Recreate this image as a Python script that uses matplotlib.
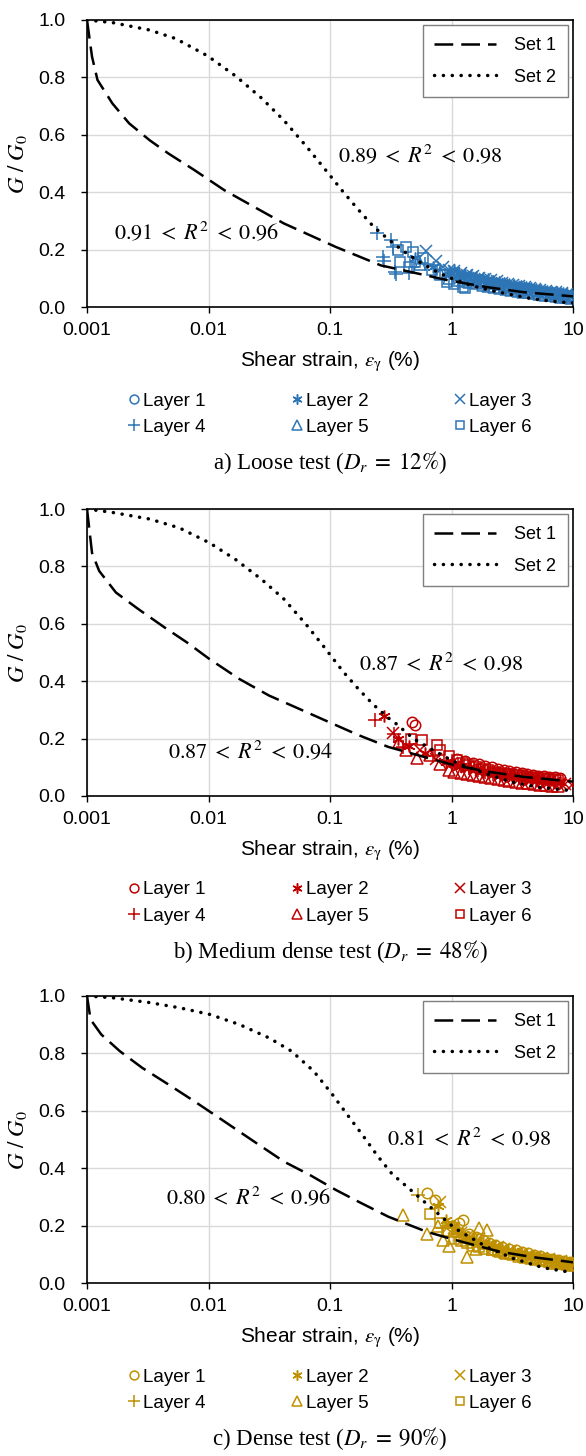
"""
G/G0 vs shear strain for the loose, medium dense and dense tests,
with the two fitted reduction curves (Set 1, Set 2) on each panel.
"""

import matplotlib

matplotlib.use("Agg")
import matplotlib.pyplot as plt
from matplotlib.lines import Line2D

plt.rcParams["font.family"] = ["Liberation Sans", "DejaVu Sans"]
plt.rcParams["mathtext.fontset"] = "stix"

# ---------------------------------------------------------------- data
# a) loose test
a_set1_x = [0.001, 0.0011, 0.00122, 0.00162, 0.00222, 0.00328, 0.00467, 0.00766, 0.0135,
            0.0237, 0.0418, 0.0685, 0.112, 0.262, 0.462, 0.94, 1.9, 3.86, 10]
a_set1_y = [1.0, 0.872, 0.791, 0.709, 0.640, 0.581, 0.535, 0.477, 0.407,
            0.349, 0.291, 0.250, 0.209, 0.145, 0.122, 0.093, 0.070, 0.052, 0.037]
a_set2_x = [0.001, 0.00162, 0.00328, 0.00538, 0.00982, 0.0167, 0.0273, 0.0418, 0.0638, 0.091,
            0.129, 0.172, 0.228, 0.302, 0.401, 0.54, 0.8, 1.0, 1.45, 2.08, 3.2, 4.7, 7.5, 10]
a_set2_y = [1.0, 0.991, 0.965, 0.935, 0.875, 0.805, 0.728, 0.650, 0.560, 0.480,
            0.400, 0.338, 0.280, 0.236, 0.195, 0.158, 0.117, 0.100, 0.075, 0.058, 0.042,
            0.028, 0.018, 0.014]

a_l1_x = [1.0, 1.1, 1.2, 1.3, 1.45, 1.6, 1.75, 1.9, 2.1, 2.3, 2.5, 2.75, 3.0, 3.3, 3.6, 4.0,
          4.4, 4.8, 5.3, 5.8, 6.4, 7.0, 7.7, 8.4, 9.2, 9.9]
a_l1_y = [0.118, 0.112, 0.108, 0.104, 0.100, 0.096, 0.093, 0.090, 0.087, 0.084, 0.080, 0.077,
          0.074, 0.071, 0.068, 0.065, 0.062, 0.059, 0.056, 0.053, 0.050, 0.047, 0.045, 0.042,
          0.039, 0.036]
a_l2_x = [0.5, 0.7, 0.95, 1.05, 1.15, 1.3, 1.45, 1.6, 1.8, 2.0, 2.2, 2.45, 2.7, 3.0, 3.3,
          3.7, 4.1, 4.5, 5.0, 5.5, 6.1, 6.7, 7.4, 8.2, 9.0]
a_l2_y = [0.17, 0.14, 0.125, 0.128, 0.12, 0.115, 0.11, 0.105, 0.1, 0.096, 0.092, 0.088, 0.084,
          0.080, 0.077, 0.073, 0.070, 0.067, 0.063, 0.060, 0.057, 0.054, 0.051, 0.048, 0.045]
a_l3_x = [0.62, 0.75, 0.85, 0.95, 1.05, 1.2, 1.35, 1.5, 1.7, 1.9, 2.1, 2.35, 2.6, 2.9, 3.2,
          3.6, 4.0, 4.4, 4.9, 5.4, 6.0, 6.6, 7.3, 8.1, 9.0, 9.8]
a_l3_y = [0.195, 0.16, 0.14, 0.13, 0.125, 0.12, 0.113, 0.108, 0.102, 0.097, 0.093, 0.089,
          0.085, 0.081, 0.078, 0.074, 0.071, 0.067, 0.064, 0.060, 0.057, 0.054, 0.051, 0.048,
          0.045, 0.043]
a_l4_x = [0.245, 0.275, 0.28, 0.32, 0.33, 0.34, 0.35, 0.45, 0.47, 0.6, 0.8, 1.0, 1.15, 1.35,
          1.6, 1.9, 2.2, 2.6, 3.0, 3.5, 4.0, 4.6, 5.3, 6.1, 7.0, 8.0, 9.0]
a_l4_y = [0.257, 0.175, 0.16, 0.233, 0.21, 0.123, 0.115, 0.118, 0.14, 0.15, 0.13, 0.11, 0.104,
          0.098, 0.091, 0.085, 0.079, 0.074, 0.069, 0.064, 0.060, 0.056, 0.052, 0.048, 0.045,
          0.042, 0.039]
a_l5_x = [0.55, 0.8, 0.95, 1.1, 1.25, 1.4, 1.6, 1.8, 2.0, 2.25, 2.5, 2.8, 3.1, 3.5, 3.9, 4.3,
          4.8, 5.3, 5.9, 6.5, 7.2, 8.0, 8.8, 9.6]
a_l5_y = [0.15, 0.12, 0.1, 0.095, 0.09, 0.086, 0.082, 0.078, 0.074, 0.070, 0.067, 0.063, 0.060,
          0.057, 0.054, 0.051, 0.048, 0.046, 0.043, 0.041, 0.038, 0.036, 0.034, 0.032]
a_l6_x = [0.36, 0.38, 0.42, 0.45, 0.48, 0.5, 0.58, 0.69, 0.8, 0.91, 1.05, 1.25, 1.3, 1.4, 1.6,
          1.8, 2.1, 2.4, 2.7, 3.1, 3.5, 4.0, 4.5, 5.1, 5.8, 6.6, 7.5, 8.5, 9.5]
a_l6_y = [0.2, 0.158, 0.21, 0.14, 0.193, 0.158, 0.17, 0.129, 0.11, 0.088, 0.08, 0.071, 0.066,
          0.094, 0.089, 0.084, 0.079, 0.075, 0.070, 0.066, 0.062, 0.058, 0.055, 0.051, 0.048,
          0.045, 0.042, 0.039, 0.037]

# b) medium dense test
b_set1_x = [0.001, 0.0011, 0.00126, 0.00173, 0.00265, 0.00436, 0.00665, 0.0102, 0.0179,
            0.0315, 0.0555, 0.0975, 0.172, 0.302, 0.658, 1.0, 1.9, 3.86, 10]
b_set1_y = [1.0, 0.847, 0.784, 0.709, 0.651, 0.587, 0.535, 0.477, 0.408,
            0.350, 0.304, 0.258, 0.212, 0.171, 0.131, 0.110, 0.086, 0.067, 0.050]
b_set2_x = [0.001, 0.00162, 0.00328, 0.00577, 0.0102, 0.0167, 0.0273, 0.0418, 0.0638, 0.091,
            0.129, 0.172, 0.228, 0.302, 0.343, 0.485, 0.665, 1.02, 1.72, 3.03, 5.3, 10]
b_set2_y = [1.0, 0.988, 0.965, 0.934, 0.882, 0.824, 0.755, 0.686, 0.597, 0.515,
            0.432, 0.372, 0.318, 0.272, 0.255, 0.200, 0.166, 0.122, 0.085, 0.050, 0.030, 0.018]

b_l1_x = [0.47, 0.5, 1.1, 1.3, 1.5, 1.7, 1.9, 2.15, 2.4, 2.7, 3.0, 3.4, 3.8, 4.2, 4.7, 5.2,
          5.8, 6.4, 7.1, 7.8]
b_l1_y = [0.258, 0.246, 0.13, 0.122, 0.115, 0.11, 0.105, 0.1, 0.095, 0.091, 0.087, 0.083,
          0.08, 0.077, 0.074, 0.071, 0.069, 0.067, 0.065, 0.063]
b_l2_x = [0.28, 0.36, 0.45, 0.6, 0.9, 1.05, 1.2, 1.4, 1.6, 1.8, 2.05, 2.3, 2.6, 2.95, 3.3,
          3.7, 4.1, 4.6, 5.1, 5.7, 6.3, 7.0, 7.8]
b_l2_y = [0.28, 0.2, 0.175, 0.15, 0.12, 0.11, 0.104, 0.098, 0.093, 0.088, 0.084, 0.080, 0.076,
          0.072, 0.069, 0.066, 0.063, 0.060, 0.058, 0.055, 0.053, 0.051, 0.049]
b_l3_x = [0.33, 0.55, 0.75, 1.0, 1.15, 1.35, 1.55, 1.75, 2.0, 2.25, 2.55, 2.9, 3.25, 3.65,
          4.1, 4.6, 5.1, 5.7, 6.3, 7.0, 7.8, 8.6, 9.8]
b_l3_y = [0.22, 0.16, 0.13, 0.115, 0.108, 0.101, 0.095, 0.09, 0.085, 0.08, 0.076, 0.072,
          0.068, 0.064, 0.061, 0.058, 0.055, 0.052, 0.05, 0.047, 0.045, 0.042, 0.04]
b_l4_x = [0.233, 0.335, 0.4, 0.7, 1.0, 1.2, 1.4, 1.65, 1.9, 2.2, 2.5, 2.85, 3.2, 3.6, 4.05,
          4.5, 5.0, 5.6, 6.2, 7.0]
b_l4_y = [0.266, 0.217, 0.17, 0.14, 0.11, 0.103, 0.096, 0.089, 0.083, 0.078, 0.074, 0.07,
          0.066, 0.063, 0.06, 0.057, 0.055, 0.052, 0.05, 0.048]
b_l5_x = [0.37, 0.42, 0.52, 0.66, 0.8, 0.95, 1.05, 1.2, 1.35, 1.5, 1.7, 1.9, 2.1, 2.4, 2.7,
          3.0, 3.4, 3.8, 4.3, 4.8, 5.4, 6.0, 6.7, 7.5]
b_l5_y = [0.188, 0.16, 0.131, 0.142, 0.11, 0.09, 0.085, 0.08, 0.076, 0.072, 0.068, 0.065,
          0.062, 0.058, 0.055, 0.052, 0.049, 0.047, 0.044, 0.042, 0.04, 0.038, 0.036, 0.034]
b_l6_x = [0.46, 0.57, 0.76, 0.81, 0.95, 1.1, 1.25, 1.4, 1.6, 1.8, 2.0, 2.25, 2.5, 2.8, 3.1,
          3.5, 3.9, 4.4, 4.9, 5.5, 6.1, 6.8, 7.5]
b_l6_y = [0.2, 0.194, 0.177, 0.16, 0.14, 0.125, 0.115, 0.108, 0.1, 0.094, 0.089, 0.085,
          0.081, 0.078, 0.075, 0.072, 0.069, 0.066, 0.064, 0.062, 0.06, 0.058, 0.056]

# c) dense test
c_set1_x = [0.001, 0.00107, 0.00131, 0.00186, 0.00284, 0.00467, 0.00766, 0.0135, 0.0237,
            0.0418, 0.0685, 0.112, 0.172, 0.302, 0.62, 1.07, 2.5, 4.7, 10]
c_set1_y = [1.0, 0.918, 0.866, 0.808, 0.750, 0.692, 0.633, 0.563, 0.493,
            0.423, 0.376, 0.324, 0.283, 0.231, 0.179, 0.150, 0.109, 0.090, 0.072]
c_set2_x = [0.001, 0.00162, 0.00328, 0.00577, 0.0102, 0.0179, 0.0315, 0.0481, 0.0735, 0.105,
            0.139, 0.185, 0.244, 0.324, 0.48, 0.69, 1.07, 1.94, 3.2, 5.7, 10]
c_set2_y = [1.0, 0.994, 0.977, 0.959, 0.936, 0.901, 0.854, 0.808, 0.738, 0.656,
            0.586, 0.516, 0.445, 0.380, 0.318, 0.260, 0.190, 0.126, 0.086, 0.053, 0.036]

c_l1_x = [0.63, 0.73, 1.0, 1.15, 1.24, 1.4, 1.6, 1.8, 2.05, 2.3, 2.6, 3.0, 3.4, 3.8, 4.3,
          4.8, 5.4, 6.0, 6.7, 7.5, 8.5, 9.5]
c_l1_y = [0.312, 0.289, 0.2, 0.21, 0.219, 0.17, 0.16, 0.15, 0.14, 0.132, 0.126, 0.12, 0.114,
          0.108, 0.103, 0.098, 0.093, 0.088, 0.084, 0.08, 0.076, 0.072]
c_l2_x = [0.78, 0.9, 1.0, 1.1, 1.25, 1.4, 1.6, 1.8, 2.05, 2.3, 2.6, 2.9, 3.3, 3.7, 4.1, 4.6,
          5.2, 5.8, 6.5, 7.2, 8.1, 9.0]
c_l2_y = [0.27, 0.22, 0.2, 0.18, 0.17, 0.16, 0.15, 0.14, 0.135, 0.13, 0.122, 0.115, 0.11,
          0.105, 0.1, 0.095, 0.09, 0.085, 0.081, 0.078, 0.074, 0.07]
c_l3_x = [0.81, 0.95, 1.05, 1.2, 1.35, 1.5, 1.7, 1.9, 2.15, 2.4, 2.7, 3.1, 3.5, 3.9, 4.4,
          5.0, 5.6, 6.3, 7.1, 8.0, 8.9, 9.8]
c_l3_y = [0.283, 0.2, 0.19, 0.175, 0.16, 0.15, 0.142, 0.135, 0.13, 0.125, 0.118, 0.11, 0.105,
          0.1, 0.095, 0.09, 0.086, 0.082, 0.078, 0.075, 0.071, 0.068]
c_l4_x = [0.53, 0.85, 1.05, 1.2, 1.35, 1.5, 1.7, 1.95, 2.2, 2.5, 2.8, 3.2, 3.6, 4.1, 4.6,
          5.2, 5.9, 6.7, 7.5, 8.5, 9.5]
c_l4_y = [0.306, 0.19, 0.16, 0.15, 0.14, 0.132, 0.125, 0.12, 0.115, 0.11, 0.105, 0.1, 0.095,
          0.09, 0.085, 0.081, 0.078, 0.074, 0.07, 0.067, 0.064]
c_l5_x = [0.4, 0.63, 0.78, 0.85, 0.95, 1.1, 1.33, 1.6, 1.7, 1.95, 2.2, 2.5, 2.8, 3.2, 3.6,
          4.0, 4.5, 5.0, 5.6, 6.3, 7.1, 8.0, 8.9, 9.8]
c_l5_y = [0.237, 0.169, 0.2, 0.15, 0.13, 0.19, 0.091, 0.12, 0.19, 0.185, 0.12, 0.112, 0.105,
          0.1, 0.095, 0.09, 0.086, 0.083, 0.079, 0.075, 0.071, 0.068, 0.065, 0.062]
c_l6_x = [0.66, 0.8, 0.92, 1.05, 1.2, 1.35, 1.5, 1.7, 1.9, 2.15, 2.4, 2.7, 3.05, 3.45, 3.9,
          4.4, 5.0, 5.7, 6.5, 7.4, 8.4, 9.5]
c_l6_y = [0.242, 0.21, 0.18, 0.155, 0.145, 0.138, 0.13, 0.125, 0.12, 0.115, 0.11, 0.105, 0.1,
          0.096, 0.092, 0.088, 0.083, 0.079, 0.075, 0.071, 0.067, 0.064]

layer_names = ["Layer 1", "Layer 2", "Layer 3", "Layer 4", "Layer 5", "Layer 6"]
r2_labels = [
    (r"$0.89\;<\;R^2\;<\;0.98$", r"$0.91\;<\;R^2\;<\;0.96$"),
    (r"$0.87\;<\;R^2\;<\;0.98$", r"$0.87\;<\;R^2\;<\;0.94$"),
    (r"$0.81\;<\;R^2\;<\;0.98$", r"$0.80\;<\;R^2\;<\;0.96$"),
]
captions = [
    ("a) Loose test (", r"$D_r\;=\;12\%$"),
    ("b) Medium dense test (", r"$D_r\;=\;48\%$"),
    ("c) Dense test (", r"$D_r\;=\;90\%$"),
]

# ---------------------------------------------------------------- style
COLORS = ["#2E75B6", "#C00000", "#BF9000"]
MARKERS = ["o", (6, 2, 0), "x", "+", "^", "s"]
MSIZE = [7.5, 8.5, 8.5, 10, 8.5, 7.5]
FS_TICK = 14
FS_LEG = 13.5

W, H = 586.0, 1456.0
AX_LEFT, AX_RIGHT = 87, 573
AX_TOPS = [20, 509, 996]
AX_H = 287

# where to put the two R^2 texts: (x, y) of the left edge
r2_pos = [
    ((0.116, 0.529), (0.00168, 0.259)),
    ((0.172, 0.460), (0.0046, 0.156)),
    ((0.292, 0.502), (0.00445, 0.297)),
]

panels = [
    (a_set1_x, a_set1_y, a_set2_x, a_set2_y,
     [(a_l1_x, a_l1_y), (a_l2_x, a_l2_y), (a_l3_x, a_l3_y),
      (a_l4_x, a_l4_y), (a_l5_x, a_l5_y), (a_l6_x, a_l6_y)]),
    (b_set1_x, b_set1_y, b_set2_x, b_set2_y,
     [(b_l1_x, b_l1_y), (b_l2_x, b_l2_y), (b_l3_x, b_l3_y),
      (b_l4_x, b_l4_y), (b_l5_x, b_l5_y), (b_l6_x, b_l6_y)]),
    (c_set1_x, c_set1_y, c_set2_x, c_set2_y,
     [(c_l1_x, c_l1_y), (c_l2_x, c_l2_y), (c_l3_x, c_l3_y),
      (c_l4_x, c_l4_y), (c_l5_x, c_l5_y), (c_l6_x, c_l6_y)]),
]

DASH = (0, (7.5, 3.2))
DOT = (0, (0.05, 2.5))


def draw_panel(fig, idx):
    s1x, s1y, s2x, s2y, layers = panels[idx]
    color = COLORS[idx]
    top = AX_TOPS[idx]
    ax = fig.add_axes([AX_LEFT / W, 1 - (top + AX_H) / H,
                       (AX_RIGHT - AX_LEFT) / W, AX_H / H])

    handles = []
    for k, (lx, ly) in enumerate(layers):
        ax.plot(lx, ly, ls="none", marker=MARKERS[k], ms=MSIZE[k], mfc="none",
                mec=color, mew=1.1, zorder=3)
        handles.append(Line2D([], [], ls="none", marker=MARKERS[k], ms=MSIZE[k] * 0.85,
                              mfc="none", mec=color, mew=1.1, label=layer_names[k]))

    l1, = ax.plot(s1x, s1y, color="black", lw=1.8, ls=DASH, zorder=4, label="Set 1")
    l2, = ax.plot(s2x, s2y, color="black", lw=2.5, ls=DOT, dash_capstyle="round",
                  zorder=4, label="Set 2")

    ax.set_xscale("log")
    ax.set_xlim(0.001, 10)
    ax.set_ylim(0, 1.0)
    ax.set_xticks([0.001, 0.01, 0.1, 1, 10])
    ax.set_xticklabels(["0.001", "0.01", "0.1", "1", "10"])
    ax.set_yticks([0, 0.2, 0.4, 0.6, 0.8, 1.0])
    ax.set_yticklabels(["0.0", "0.2", "0.4", "0.6", "0.8", "1.0"])
    ax.minorticks_off()
    ax.tick_params(axis="both", labelsize=FS_TICK, length=4.5, width=1, direction="out")
    ax.tick_params(axis="x", pad=6)
    ax.tick_params(axis="y", pad=11)
    ax.grid(True, color="#D9D9D9", lw=1.0, zorder=0)
    ax.set_axisbelow(True)
    for sp in ax.spines.values():
        sp.set_color("black")
        sp.set_linewidth(1.2)

    ax.set_ylabel(r"$G\ /\ G_0$", fontsize=16.5)
    ax.yaxis.set_label_coords(-58 / (AX_RIGHT - AX_LEFT), 0.5)
    ax.set_xlabel(r"Shear strain, $\varepsilon_{\mathrm{\gamma}}$ (%)", fontsize=15)
    ax.xaxis.set_label_coords(0.5, -43 / AX_H)

    (ux, uy), (lx_, ly_) = r2_pos[idx]
    up_txt, lo_txt = r2_labels[idx]
    ax.text(ux, uy, up_txt, fontsize=16, ha="left", va="center", zorder=5)
    ax.text(lx_, ly_, lo_txt, fontsize=16, ha="left", va="center", zorder=5)

    leg = ax.legend(handles=[l1, l2], loc="upper right", fontsize=13,
                    handlelength=3.4, handletextpad=1.0, labelspacing=0.8,
                    borderaxespad=0.3, borderpad=0.65, fancybox=False,
                    framealpha=1, edgecolor="#7F7F7F")
    leg.get_frame().set_linewidth(1.0)
    ax.add_artist(leg)

    order = [0, 3, 1, 4, 2, 5]
    ax.legend(handles=[handles[i] for i in order], loc="upper center",
              bbox_to_anchor=(0.5, -76 / AX_H), ncol=3, fontsize=FS_LEG, frameon=False,
              handlelength=0.6, handletextpad=0.15, columnspacing=4.6,
              labelspacing=0.5, borderpad=0)

    head, math = captions[idx]
    ax.text(0.5, -156 / AX_H, head + math + ")", transform=ax.transAxes,
            ha="center", va="center", fontsize=16.5,
            family=["Liberation Serif", "DejaVu Serif"])
    return ax


fig = plt.figure(figsize=(W / 100, H / 100), dpi=100)
for i in range(3):
    draw_panel(fig, i)
fig.savefig("out.png", dpi=100)
